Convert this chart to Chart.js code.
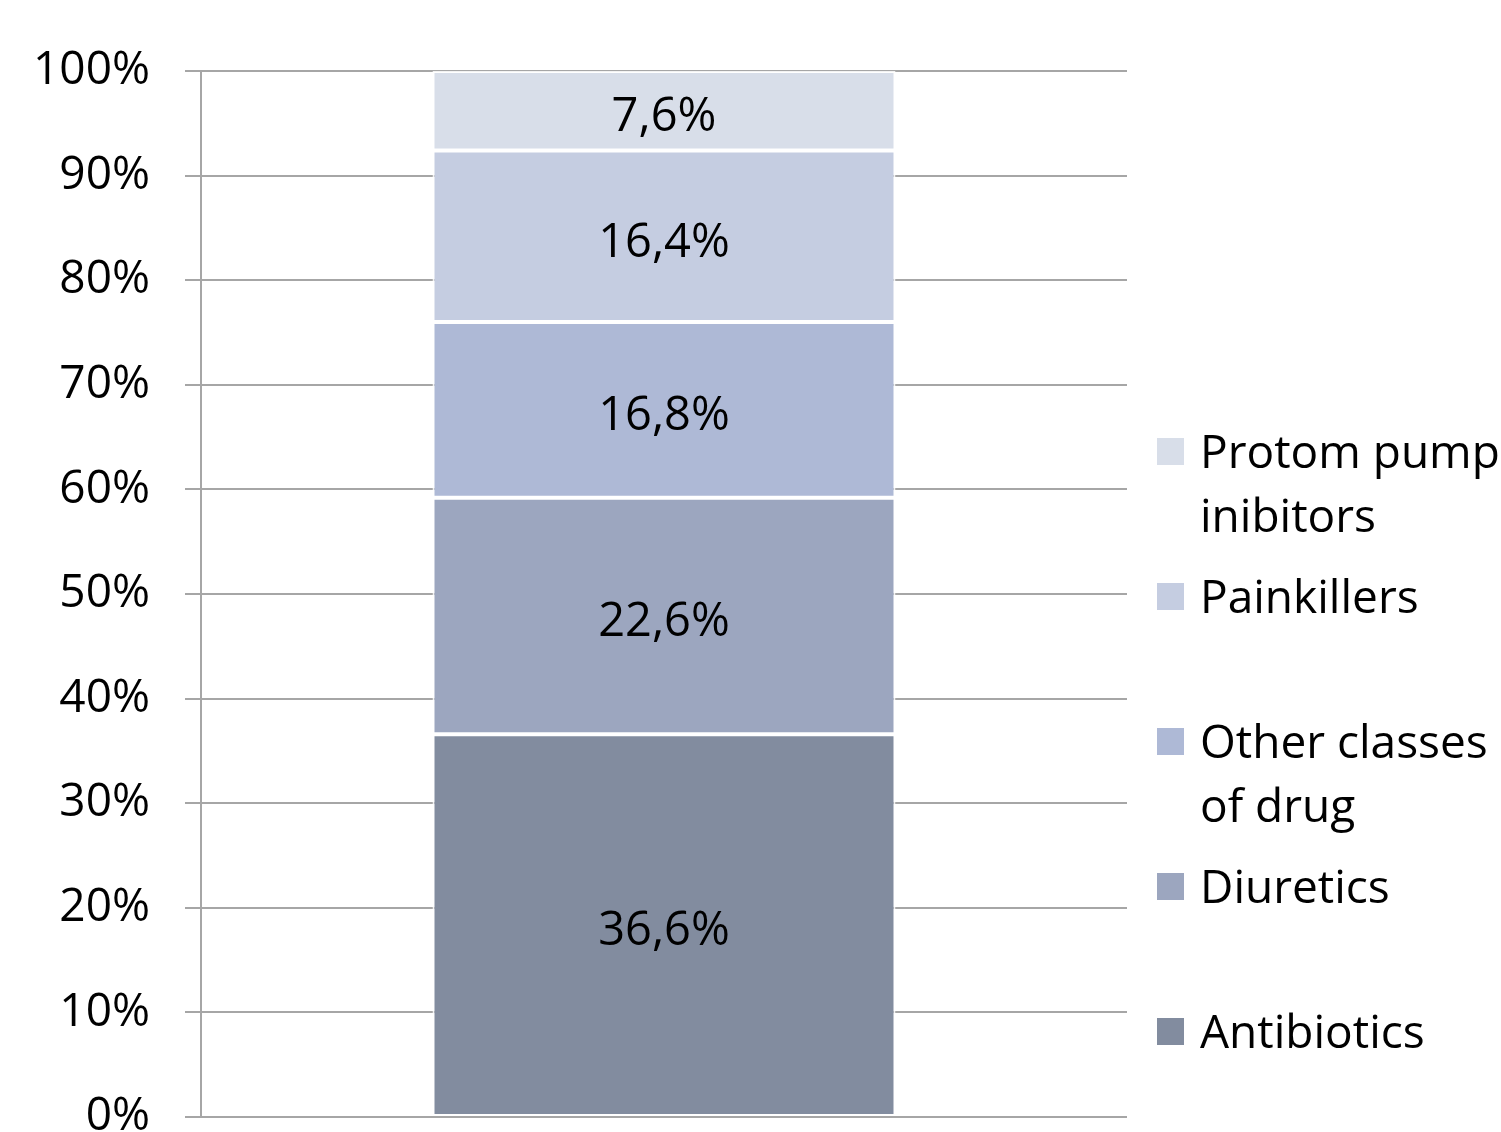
<!DOCTYPE html>
<html>
<head>
<meta charset="utf-8">
<style>
html,body{margin:0;padding:0;background:#fff;}
#wrap{position:relative;width:1501px;height:1132px;}
</style>
<script src="https://cdn.jsdelivr.net/npm/chart.js@4/dist/chart.umd.min.js"></script>
</head>
<body>
<div id="wrap"><canvas id="c" width="1501" height="1132"></canvas></div>
<script>
const categories = [''];
const seriesNames = ['Antibiotics', 'Diuretics', 'Other classes of drug', 'Painkillers', 'Protom pump inibitors'];
const legendLines = [['Antibiotics'], ['Diuretics'], ['Other classes', 'of drug'], ['Painkillers'], ['Protom pump', 'inibitors']];
const antibiotics = [36.6];
const diuretics = [22.6];
const otherClasses = [16.8];
const painkillers = [16.4];
const protonPump = [7.6];
const seriesValues = [antibiotics, diuretics, otherClasses, painkillers, protonPump];
const seriesColors = ['#828c9f', '#9ca6bf', '#aeb9d6', '#c5cde1', '#d8dee9'];
const yTicks = [0, 10, 20, 30, 40, 50, 60, 70, 80, 90, 100];

const FONT = '"Open Sans", "Liberation Sans", sans-serif';

const valueLabels = {
  id: 'valueLabels',
  afterDatasetsDraw(chart) {
    const ctx = chart.ctx;
    ctx.save();
    ctx.font = '47px ' + FONT;
    ctx.fillStyle = '#000';
    ctx.textAlign = 'center';
    ctx.textBaseline = 'middle';
    chart.data.datasets.forEach((ds, i) => {
      chart.getDatasetMeta(i).data.forEach((bar, j) => {
        const v = ds.data[j];
        const txt = v.toFixed(1).replace('.', ',') + '%';
        const y = (bar.y + bar.base) / 2;
        ctx.fillText(txt, bar.x, y + 7);
      });
    });
    ctx.restore();
  }
};

const sideLegend = {
  id: 'sideLegend',
  afterDraw(chart) {
    const ctx = chart.ctx;
    const area = chart.chartArea;
    ctx.save();
    ctx.font = '46px ' + FONT;
    ctx.textBaseline = 'middle';
    ctx.textAlign = 'left';
    const boxX = area.right + 30;
    const textX = area.right + 73;
    const step = 145;
    const lineH = 64;
    const firstY = 1032;
    seriesNames.forEach((name, i) => {
      const y = firstY - i * step;
      ctx.fillStyle = seriesColors[i];
      ctx.fillRect(boxX, y - 14, 27, 27);
      ctx.fillStyle = '#000';
      legendLines[i].forEach((line, k) => {
        ctx.fillText(line, textX, y + k * lineH + 3);
      });
    });
    ctx.restore();
  }
};

new Chart(document.getElementById('c'), {
  type: 'bar',
  data: {
    labels: categories,
    datasets: seriesNames.map((n, i) => ({
      label: n,
      data: seriesValues[i],
      backgroundColor: seriesColors[i],
      borderColor: 'rgba(255,255,255,0.85)',
      borderWidth: 2,
      borderSkipped: false,
      barPercentage: 1.0,
      categoryPercentage: 0.5
    }))
  },
  options: {
    responsive: false,
    animation: false,
    devicePixelRatio: 1,
    layout: { autoPadding: false, padding: { left: 0, right: 374, top: 71, bottom: 15 } },
    plugins: { legend: { display: false }, tooltip: { enabled: false } },
    scales: {
      x: { stacked: true, display: false },
      y: {
        stacked: true,
        min: 0,
        max: 100,
        afterFit(scale) {
          scale.width = 201;
          scale.paddingTop = 0;
          scale.paddingBottom = 0;
        },
        afterBuildTicks(scale) { scale.ticks = yTicks.map(v => ({ value: v })); },
        ticks: {
          padding: 35,
          color: '#000',
          font: { family: FONT, size: 46 },
          callback: v => v + '%'
        },
        grid: {
          color: '#a6a6a6',
          lineWidth: 2,
          tickLength: 16,
          drawTicks: true
        },
        border: { display: true, color: '#a6a6a6', width: 2 }
      }
    }
  },
  plugins: [valueLabels, sideLegend]
});
</script>
</body>
</html>
